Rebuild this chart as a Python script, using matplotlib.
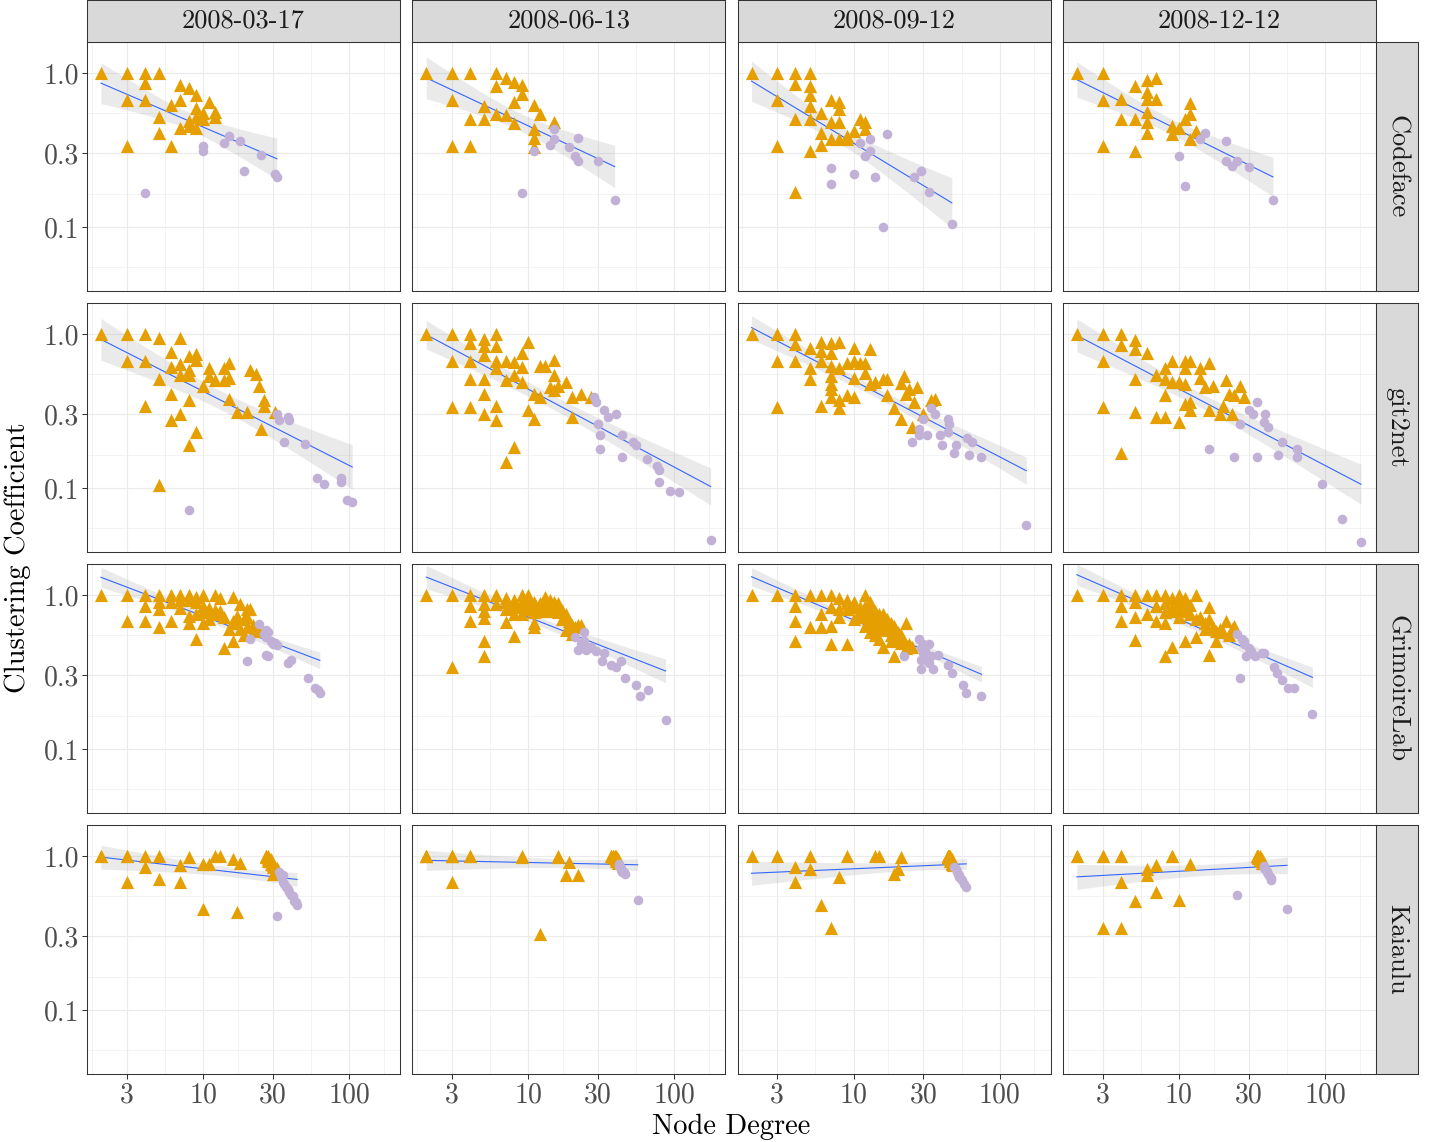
import numpy as np
import matplotlib
matplotlib.use("Agg")
import matplotlib.pyplot as plt
from matplotlib.ticker import NullLocator

plt.rcParams['font.family'] = 'serif'
plt.rcParams['font.serif'] = ['cmr10', 'DejaVu Serif']
plt.rcParams['axes.unicode_minus'] = False

dates = ["2008-03-17", "2008-06-13", "2008-09-12", "2008-12-12"]
tools = ["Codeface", "git2net", "GrimoireLab", "Kaiaulu"]

x_ticks = [3, 10, 30, 100]
x_tick_labels = ["3", "10", "30", "100"]
x_minor = [1.73, 5.48, 17.3, 54.8, 173]
y_ticks = [0.1, 0.3, 1.0]
y_tick_labels = ["0.1", "0.3", "1.0"]
y_minor = [0.0548, 0.164, 0.548]

# (node degree, clustering coefficient); tri = orange triangles, dot = purple circles
codeface_1_tri = [(2, 1.0), (3, 1.0), (4, 1.0), (5, 1.0), (4, 0.857), (3, 0.667), (4, 0.667), (7, 0.83),
                  (8, 0.8), (9, 0.72), (7, 0.67), (6, 0.62), (11, 0.65), (9, 0.59), (12, 0.56), (12, 0.52),
                  (10, 0.5), (5, 0.52), (5, 0.41), (8, 0.49), (7, 0.44), (8, 0.45), (9, 0.44), (3, 0.333),
                  (6, 0.333), (9, 0.52), (10, 0.55)]
codeface_1_dot = [(4, 0.167), (10, 0.333), (10, 0.31), (14, 0.35), (15, 0.39), (18, 0.36), (25, 0.295),
                  (19, 0.23), (31, 0.22), (32, 0.21)]

codeface_2_tri = [(2, 1.0), (3, 1.0), (4, 1.0), (6, 1.0), (7, 0.92), (8, 0.87), (9, 0.83), (9, 0.73),
                  (6, 0.82), (3, 0.667), (8, 0.65), (5, 0.61), (6, 0.54), (7, 0.53), (4, 0.5), (5, 0.5),
                  (8, 0.47), (11, 0.62), (12, 0.54), (15, 0.48), (11, 0.43), (11, 0.38), (11, 0.33),
                  (3, 0.333), (4, 0.333)]
codeface_2_dot = [(9, 0.167), (11, 0.31), (14, 0.34), (15, 0.37), (15, 0.43), (19, 0.33), (22, 0.38),
                  (21, 0.29), (22, 0.27), (30, 0.27), (39, 0.149)]

codeface_3_tri = [(2, 1.0), (3, 1.0), (4, 1.0), (5, 1.0), (4, 0.85), (5, 0.82), (5, 0.72), (3, 0.667),
                  (5, 0.61), (7, 0.67), (8, 0.65), (8, 0.58), (4, 0.5), (5, 0.5), (6, 0.55), (7, 0.48),
                  (8, 0.48), (6, 0.41), (6, 0.34), (5, 0.31), (3, 0.333), (4, 0.17), (8, 0.37), (9, 0.39),
                  (10, 0.42), (11, 0.5), (12, 0.48), (12, 0.43), (9, 0.37), (7, 0.37)]
codeface_3_dot = [(7, 0.24), (7, 0.19), (10, 0.22), (11, 0.35), (13, 0.37), (13, 0.31), (12, 0.29),
                  (14, 0.21), (17, 0.4), (16, 0.1), (26, 0.21), (29, 0.23), (33, 0.17), (47, 0.105)]

codeface_4_tri = [(2, 1.0), (3, 1.0), (3, 0.667), (5, 0.82), (6, 0.9), (7, 0.93), (6, 0.75), (6, 0.68),
                  (7, 0.68), (4, 0.68), (4, 0.5), (5, 0.5), (6, 0.56), (6, 0.48), (6, 0.41), (3, 0.333),
                  (5, 0.31), (9, 0.45), (9, 0.4), (10, 0.44), (11, 0.5), (12, 0.64), (12, 0.54), (12, 0.37),
                  (13, 0.42)]
codeface_4_dot = [(10, 0.29), (11, 0.185), (14, 0.37), (15, 0.41), (21, 0.36), (21, 0.27), (23, 0.25),
                  (25, 0.27), (30, 0.245), (44, 0.149)]

git2net_1_tri = [(2, 1.0), (3, 1.0), (4, 1.0), (5, 0.94), (7, 0.94), (3, 0.667), (4, 0.667), (6, 0.76),
                 (5, 0.51), (6, 0.61), (7, 0.64), (8, 0.72), (9, 0.74), (9, 0.68), (8, 0.58), (7, 0.54),
                 (8, 0.54), (11, 0.6), (11, 0.53), (12, 0.5), (10, 0.46), (14, 0.6), (15, 0.65), (15, 0.52),
                 (14, 0.5), (21, 0.58), (23, 0.55), (24, 0.46), (6, 0.41), (8, 0.37), (7, 0.3), (6, 0.275),
                 (4, 0.34), (9, 0.23), (8, 0.19), (5, 0.104), (15, 0.38), (17, 0.31), (20, 0.31), (26, 0.37),
                 (26, 0.34), (25, 0.24), (31, 0.31)]
git2net_1_dot = [(8, 0.072), (32, 0.3), (33, 0.275), (38, 0.29), (39, 0.275), (36, 0.2), (50, 0.194),
                 (60, 0.116), (67, 0.106), (88, 0.117), (88, 0.109), (96, 0.084), (105, 0.081)]

git2net_2_tri = [(2, 1.0), (3, 1.0), (4, 1.0), (6, 1.0), (5, 0.92), (4, 0.87), (5, 0.83), (6, 0.83),
                 (5, 0.73), (10, 0.89), (3, 0.667), (4, 0.667), (6, 0.67), (7, 0.667), (8, 0.66), (9, 0.75),
                 (9, 0.61), (6, 0.6), (4, 0.51), (5, 0.51), (7, 0.5), (8, 0.54), (9, 0.49), (12, 0.62),
                 (13, 0.62), (15, 0.68), (15, 0.54), (14, 0.45), (15, 0.43), (16, 0.46), (18, 0.49),
                 (11, 0.41), (12, 0.39), (20, 0.39), (23, 0.41), (27, 0.39), (20, 0.29), (5, 0.41),
                 (3, 0.333), (4, 0.333), (5, 0.3), (6, 0.34), (6, 0.275), (10, 0.32), (11, 0.28),
                 (8, 0.184), (7, 0.147)]
git2net_2_dot = [(28, 0.39), (29, 0.36), (33, 0.32), (35, 0.29), (40, 0.3), (30, 0.26), (31, 0.22),
                 (31, 0.18), (44, 0.22), (44, 0.16), (52, 0.2), (55, 0.19), (65, 0.155), (76, 0.138),
                 (79, 0.13), (78, 0.11), (93, 0.096), (107, 0.095), (177, 0.046)]

git2net_3_tri = [(2, 1.0), (3, 1.0), (4, 1.0), (4, 0.86), (3, 0.667), (4, 0.667), (5, 0.81), (5, 0.6),
                 (5, 0.51), (6, 0.89), (6, 0.77), (6, 0.67), (7, 0.87), (7, 0.75), (7, 0.62), (7, 0.53),
                 (7, 0.47), (7, 0.44), (7, 0.39), (8, 0.89), (8, 0.6), (8, 0.37), (8, 0.33), (6, 0.34),
                 (3, 0.333), (9, 0.65), (9, 0.4), (10, 0.81), (10, 0.67), (10, 0.52), (10, 0.39),
                 (11, 0.65), (12, 0.65), (12, 0.56), (13, 0.8), (13, 0.47), (14, 0.49), (16, 0.51),
                 (17, 0.51), (17, 0.4), (19, 0.33), (21, 0.28), (22, 0.53), (21, 0.48), (24, 0.44),
                 (23, 0.41), (27, 0.45), (26, 0.36), (25, 0.25), (34, 0.37), (36, 0.38), (30, 0.3)]
git2net_3_dot = [(34, 0.33), (36, 0.3), (30, 0.28), (28, 0.24), (25, 0.2), (28, 0.22), (32, 0.22),
                 (39, 0.22), (40, 0.19), (44, 0.28), (45, 0.26), (44, 0.23), (50, 0.19), (49, 0.17),
                 (60, 0.21), (65, 0.2), (62, 0.165), (75, 0.16), (152, 0.058)]

git2net_4_tri = [(2, 1.0), (3, 1.0), (4, 1.0), (5, 0.91), (4, 0.85), (5, 0.8), (6, 0.75), (3, 0.667),
                 (5, 0.51), (3, 0.333), (5, 0.31), (4, 0.168), (7, 0.54), (8, 0.6), (9, 0.67), (11, 0.67),
                 (12, 0.67), (11, 0.6), (14, 0.6), (16, 0.65), (8, 0.51), (10, 0.49), (11, 0.47), (8, 0.4),
                 (7, 0.29), (8, 0.29), (10, 0.27), (11, 0.35), (12, 0.36), (12, 0.32), (14, 0.52),
                 (15, 0.45), (17, 0.46), (21, 0.5), (22, 0.41), (26, 0.46), (28, 0.39), (16, 0.32),
                 (19, 0.3), (20, 0.34), (23, 0.3), (24, 0.4), (9, 0.49)]
git2net_4_dot = [(16, 0.18), (24, 0.16), (34, 0.16), (26, 0.26), (30, 0.32), (32, 0.3), (34, 0.36),
                 (39, 0.3), (38, 0.27), (41, 0.25), (51, 0.2), (48, 0.165), (64, 0.18), (64, 0.16),
                 (95, 0.107), (131, 0.063), (176, 0.045)]

grimoire_1_tri = [(2, 1.0), (3, 1.0), (4, 1.0), (5, 1.0), (6, 1.0), (7, 1.0), (8, 1.0), (10, 1.0),
                  (12, 1.0), (13, 0.95), (16, 0.97), (4, 0.85), (5, 0.9), (5, 0.81), (7, 0.82), (9, 0.9),
                  (9, 0.75), (3, 0.68), (4, 0.68), (6, 0.68), (5, 0.62), (8, 0.66), (10, 0.66), (8, 0.73),
                  (10, 0.77), (11, 0.79), (11, 0.7), (12, 0.75), (9, 0.52), (17, 0.73), (18, 0.87),
                  (20, 0.81), (21, 0.81), (15, 0.6), (18, 0.6), (20, 0.62), (16, 0.5), (14, 0.45), (8, 0.92),
                  (9, 0.97), (10, 0.85), (11, 0.82), (12, 0.8), (13, 0.78), (14, 0.72), (16, 0.68),
                  (17, 0.66), (19, 0.7), (20, 0.72), (22, 0.64), (23, 0.6), (19, 0.55), (24, 0.58),
                  (6, 0.9), (7, 0.92)]
grimoire_1_dot = [(24, 0.65), (27, 0.59), (28, 0.57), (21, 0.52), (27, 0.53), (31, 0.49), (32, 0.47),
                  (20, 0.37), (27, 0.41), (28, 0.4), (38, 0.36), (40, 0.38), (52, 0.29), (58, 0.25),
                  (61, 0.24), (63, 0.23), (26, 0.56), (29, 0.5), (30, 0.48)]

grimoire_2_tri = [(2, 1.0), (3, 1.0), (4, 1.0), (5, 1.0), (6, 1.0), (9, 1.0), (10, 1.0), (13, 0.97),
                  (14, 0.92), (16, 0.88), (4, 0.85), (5, 0.87), (5, 0.79), (6, 0.87), (7, 0.9), (7, 0.81),
                  (8, 0.83), (9, 0.9), (10, 0.81), (11, 0.9), (11, 0.77), (12, 0.79), (13, 0.79), (15, 0.83),
                  (16, 0.77), (18, 0.75), (8, 0.75), (9, 0.75), (11, 0.66), (11, 0.62), (4, 0.68), (5, 0.71),
                  (7, 0.67), (5, 0.5), (5, 0.4), (8, 0.54), (3, 0.34), (18, 0.59), (22, 0.64), (23, 0.64),
                  (20, 0.56), (7, 0.95), (8, 0.92), (8, 0.88), (9, 0.85), (10, 0.92), (10, 0.87),
                  (11, 0.85), (12, 0.88), (12, 0.83), (13, 0.85), (13, 0.9), (14, 0.83), (14, 0.78),
                  (15, 0.9), (16, 0.82), (17, 0.8), (17, 0.7), (19, 0.68), (20, 0.64), (21, 0.62)]
grimoire_2_dot = [(24, 0.57), (24, 0.5), (21, 0.53), (22, 0.44), (25, 0.44), (27, 0.46), (33, 0.42),
                  (32, 0.37), (37, 0.35), (40, 0.34), (43, 0.37), (46, 0.29), (55, 0.26), (58, 0.22),
                  (66, 0.24), (87, 0.155), (23, 0.48), (26, 0.45), (29, 0.43)]

grimoire_3_tri = [(2, 1.0), (3, 1.0), (4, 1.0), (5, 1.0), (6, 1.0), (7, 1.0), (8, 0.96), (9, 0.93),
                  (10, 0.9), (12, 1.0), (13, 0.9), (4, 0.85), (4, 0.68), (5, 0.62), (6, 0.62), (6, 0.75),
                  (7, 0.83), (7, 0.63), (8, 0.72), (8, 0.81), (9, 0.81), (10, 0.7), (11, 0.83), (11, 0.73),
                  (12, 0.77), (12, 0.63), (13, 0.7), (14, 0.79), (14, 0.62), (15, 0.66), (16, 0.75),
                  (17, 0.7), (17, 0.59), (19, 0.63), (20, 0.57), (23, 0.66), (4, 0.5), (7, 0.48), (9, 0.48),
                  (13, 0.57), (15, 0.52), (16, 0.46), (19, 0.4), (21, 0.49), (23, 0.45), (18, 0.5), (14, 0.55),
                  (9, 0.88), (10, 0.83), (11, 0.78), (12, 0.85), (12, 0.72), (13, 0.8), (13, 0.65),
                  (14, 0.7), (15, 0.75), (15, 0.6), (16, 0.65), (17, 0.62), (18, 0.66), (18, 0.55),
                  (19, 0.58), (20, 0.52), (21, 0.55), (22, 0.5), (24, 0.48), (25, 0.46)]
grimoire_3_dot = [(28, 0.52), (30, 0.48), (33, 0.48), (31, 0.43), (29, 0.38), (32, 0.37), (35, 0.33),
                  (29, 0.33), (38, 0.41), (22, 0.4), (44, 0.35), (47, 0.31), (56, 0.26), (59, 0.23), (75, 0.22),
                  (29, 0.45), (30, 0.42), (31, 0.4), (33, 0.36), (34, 0.4)]

grimoire_4_tri = [(2, 1.0), (3, 1.0), (4, 1.0), (5, 1.0), (6, 1.0), (7, 1.0), (8, 1.0), (10, 1.0),
                  (11, 0.96), (13, 1.0), (4, 0.85), (4, 0.68), (5, 0.9), (5, 0.72), (6, 0.75), (7, 0.85),
                  (7, 0.68), (8, 0.77), (8, 0.66), (9, 0.83), (10, 0.72), (11, 0.79), (5, 0.51), (9, 0.46),
                  (8, 0.4), (11, 0.5), (13, 0.53), (15, 0.66), (16, 0.83), (16, 0.7), (21, 0.68), (24, 0.63),
                  (18, 0.5), (16, 0.41), (15, 0.6), (20, 0.57), (9, 0.95), (10, 0.9), (11, 0.88),
                  (12, 0.86), (8, 0.88), (9, 0.78), (10, 0.8), (12, 0.75), (13, 0.7), (14, 0.72),
                  (17, 0.62), (18, 0.58), (19, 0.6), (22, 0.55), (23, 0.6)]
grimoire_4_dot = [(25, 0.56), (28, 0.5), (30, 0.45), (29, 0.4), (26, 0.29), (37, 0.42), (38, 0.42),
                  (45, 0.34), (47, 0.31), (51, 0.28), (56, 0.25), (61, 0.25), (82, 0.17),
                  (27, 0.52), (28, 0.48), (31, 0.43), (33, 0.4)]

# several nodes share (degree, 1.0) in Kaiaulu, so these positions repeat
kaiaulu_1_tri = [(2, 1.0), (2, 1.0), (3, 1.0), (3, 1.0), (4, 1.0), (5, 1.0), (8, 0.98), (12, 1.0),
                 (13, 1.0), (16, 0.95), (18, 0.9), (27, 1.0), (28, 0.96), (29, 0.89), (32, 0.83), (4, 0.85),
                 (7, 0.87), (10, 0.89), (11, 0.89), (3, 0.68), (5, 0.71), (7, 0.68), (10, 0.45), (17, 0.43),
                 (30, 0.76), (27, 0.98), (28, 1.0), (28, 0.93), (29, 0.92), (30, 0.87), (30, 0.85),
                 (31, 0.8), (27, 1.0), (28, 0.98), (29, 0.95)]
kaiaulu_1_dot = [(35, 0.75), (35, 0.68), (38, 0.61), (41, 0.55), (42, 0.51), (44, 0.48), (32, 0.41),
                 (33, 0.78), (34, 0.73), (36, 0.66), (37, 0.63), (39, 0.58), (40, 0.56), (43, 0.5)]

kaiaulu_2_tri = [(2, 1.0), (2, 1.0), (2, 1.0), (3, 1.0), (3, 1.0), (3, 1.0), (4, 1.0), (4, 1.0),
                 (9, 0.99), (9, 1.0), (16, 0.99), (16, 1.0), (19, 0.91), (18, 0.75), (22, 0.75),
                 (3, 0.68), (12, 0.31), (38, 1.0), (40, 0.95), (41, 0.9),
                 (37, 1.0), (38, 0.98), (39, 0.97), (39, 1.0), (40, 1.0), (40, 0.93), (41, 0.92),
                 (41, 0.95), (38, 0.99), (39, 0.99), (37, 1.0), (38, 1.0), (39, 1.0), (40, 0.98),
                 (40, 0.97), (41, 0.96)]
kaiaulu_2_dot = [(42, 0.86), (44, 0.79), (46, 0.76), (56, 0.52),
                 (42, 0.88), (43, 0.83), (43, 0.81), (44, 0.8), (45, 0.78)]

kaiaulu_3_tri = [(2, 1.0), (3, 1.0), (4, 0.85), (4, 0.68), (5, 1.0), (5, 0.82), (6, 0.48), (7, 0.34),
                 (8, 0.73), (9, 1.0), (14, 1.0), (15, 1.0), (21, 0.99), (20, 0.82), (19, 0.76), (45, 1.0),
                 (46, 0.95), (47, 0.9), (44, 1.0), (44, 0.98), (45, 0.97), (45, 0.99), (46, 0.93),
                 (46, 0.97), (47, 0.92), (47, 0.88), (48, 0.87), (44, 1.0), (45, 1.0), (46, 0.99),
                 (44, 0.99), (44, 1.0), (45, 1.0), (45, 0.98), (46, 1.0), (46, 0.98), (47, 0.96)]
kaiaulu_3_dot = [(50, 0.82), (53, 0.75), (54, 0.71), (59, 0.63),
                 (49, 0.85), (51, 0.79), (52, 0.76), (53, 0.73), (55, 0.7), (57, 0.66)]

kaiaulu_4_tri = [(2, 1.0), (2, 1.0), (3, 1.0), (3, 1.0), (4, 1.0), (4, 1.0), (9, 1.0),
                 (9, 1.0), (12, 0.89), (7, 0.87), (6, 0.82), (6, 0.75), (4, 0.68), (5, 0.51), (7, 0.58),
                 (10, 0.52), (3, 0.34), (4, 0.34), (35, 1.0), (36, 0.94), (37, 0.9), (34, 1.0),
                 (35, 0.97), (36, 0.96), (37, 0.93), (38, 0.9), (34, 1.0), (35, 1.0), (36, 0.98),
                 (34, 1.0), (35, 1.0), (35, 0.99), (36, 1.0), (36, 0.97), (37, 0.95)]
kaiaulu_4_dot = [(38, 0.83), (40, 0.78), (43, 0.7), (25, 0.56), (55, 0.45),
                 (38, 0.86), (39, 0.82), (40, 0.8), (41, 0.76), (42, 0.73), (43, 0.72)]

panels = [
    [(codeface_1_tri, codeface_1_dot), (codeface_2_tri, codeface_2_dot),
     (codeface_3_tri, codeface_3_dot), (codeface_4_tri, codeface_4_dot)],
    [(git2net_1_tri, git2net_1_dot), (git2net_2_tri, git2net_2_dot),
     (git2net_3_tri, git2net_3_dot), (git2net_4_tri, git2net_4_dot)],
    [(grimoire_1_tri, grimoire_1_dot), (grimoire_2_tri, grimoire_2_dot),
     (grimoire_3_tri, grimoire_3_dot), (grimoire_4_tri, grimoire_4_dot)],
    [(kaiaulu_1_tri, kaiaulu_1_dot), (kaiaulu_2_tri, kaiaulu_2_dot),
     (kaiaulu_3_tri, kaiaulu_3_dot), (kaiaulu_4_tri, kaiaulu_4_dot)],
]

W, H = 1437, 1142
fig = plt.figure(figsize=(W / 100, H / 100), dpi=100)

col_left = [87, 412.3, 737.6, 1062.9]
row_top = [42, 303, 564, 825]
pw, ph = 313, 249
strip_h = 42
dark = '#333333'
grid_col = '#EBEBEB'


def px_axes(left, top, w, h):
    return fig.add_axes([left / W, 1 - (top + h) / H, w / W, h / H])


def t975(df):
    # approx 97.5% t quantile
    return 1.959964 + 2.37 / df + 2.8 / df ** 2


for r in range(4):
    for c in range(4):
        tri, dot = panels[r][c]
        ax = px_axes(col_left[c], row_top[r], pw, ph)
        ax.set_xscale('log')
        ax.set_yscale('log')
        ax.set_xlim(1.606, 223)
        ax.set_ylim(0.0385, 1.585)

        for v in x_minor:
            ax.axvline(v, color=grid_col, lw=0.4, zorder=0)
        for v in y_minor:
            ax.axhline(v, color=grid_col, lw=0.4, zorder=0)
        for v in x_ticks:
            ax.axvline(v, color=grid_col, lw=0.8, zorder=0)
        for v in y_ticks:
            ax.axhline(v, color=grid_col, lw=0.8, zorder=0)

        tx = [p[0] for p in tri]
        ty = [p[1] for p in tri]
        dx = [p[0] for p in dot]
        dy = [p[1] for p in dot]

        # lm fit on log-log scale with 95% band
        lx = np.log10(np.array(tx + dx, dtype=float))
        ly = np.log10(np.array(ty + dy, dtype=float))
        n = len(lx)
        slope, inter = np.polyfit(lx, ly, 1)
        resid = ly - (slope * lx + inter)
        sig = np.sqrt(np.sum(resid ** 2) / (n - 2))
        sxx = np.sum((lx - lx.mean()) ** 2)
        xs = np.linspace(lx.min(), lx.max(), 80)
        fit = slope * xs + inter
        se = sig * np.sqrt(1.0 / n + (xs - lx.mean()) ** 2 / sxx)
        t = t975(n - 2)
        ax.fill_between(10 ** xs, 10 ** (fit - t * se), 10 ** (fit + t * se),
                        color='#999999', alpha=0.2, lw=0, zorder=2)
        ax.plot(10 ** xs, 10 ** fit, color='#3366FF', lw=0.8, zorder=3)

        ax.scatter(tx, ty, marker='^', s=90, color='#E69F00', linewidths=0, zorder=4)
        ax.scatter(dx, dy, marker='o', s=48, color='#C1B1D7', linewidths=0, zorder=4)

        ax.xaxis.set_minor_locator(NullLocator())
        ax.yaxis.set_minor_locator(NullLocator())
        ax.set_xticks(x_ticks)
        ax.set_yticks(y_ticks)
        if r == 3:
            ax.set_xticklabels(x_tick_labels)
            ax.tick_params(axis='x', length=3.8, width=0.75, color=dark, labelsize=20,
                           labelcolor='#4D4D4D', pad=2)
        else:
            ax.set_xticklabels([])
            ax.tick_params(axis='x', length=0)
        if c == 0:
            ax.set_yticklabels(y_tick_labels)
            ax.tick_params(axis='y', length=3.8, width=0.75, color=dark, labelsize=20,
                           labelcolor='#4D4D4D', pad=2)
        else:
            ax.set_yticklabels([])
            ax.tick_params(axis='y', length=0)
        for sp in ax.spines.values():
            sp.set_color(dark)
            sp.set_linewidth(0.75)

# facet strips
for c, d in enumerate(dates):
    sa = px_axes(col_left[c], 0, pw, strip_h)
    sa.set_facecolor('#D9D9D9')
    sa.set_xticks([])
    sa.set_yticks([])
    for sp in sa.spines.values():
        sp.set_color(dark)
        sp.set_linewidth(0.75)
    sa.text(0.5, 0.5, d, ha='center', va='center', fontsize=19, color='#1A1A1A',
            transform=sa.transAxes)

for r, tname in enumerate(tools):
    sa = px_axes(col_left[3] + pw, row_top[r], 42, ph)
    sa.set_facecolor('#D9D9D9')
    sa.set_xticks([])
    sa.set_yticks([])
    for sp in sa.spines.values():
        sp.set_color(dark)
        sp.set_linewidth(0.75)
    sa.text(0.5, 0.5, tname, ha='center', va='center', fontsize=19, color='#1A1A1A',
            rotation=-90, transform=sa.transAxes)

fig.text((col_left[0] + col_left[3] + pw) / 2 / W, 1 - 1127 / H, 'Node Degree',
         ha='center', va='center', fontsize=20.5)
fig.text(18 / W, 1 - 558 / H, 'Clustering Coefficient', ha='center', va='center',
         rotation=90, fontsize=20.5)

fig.savefig('out.png', dpi=100)
